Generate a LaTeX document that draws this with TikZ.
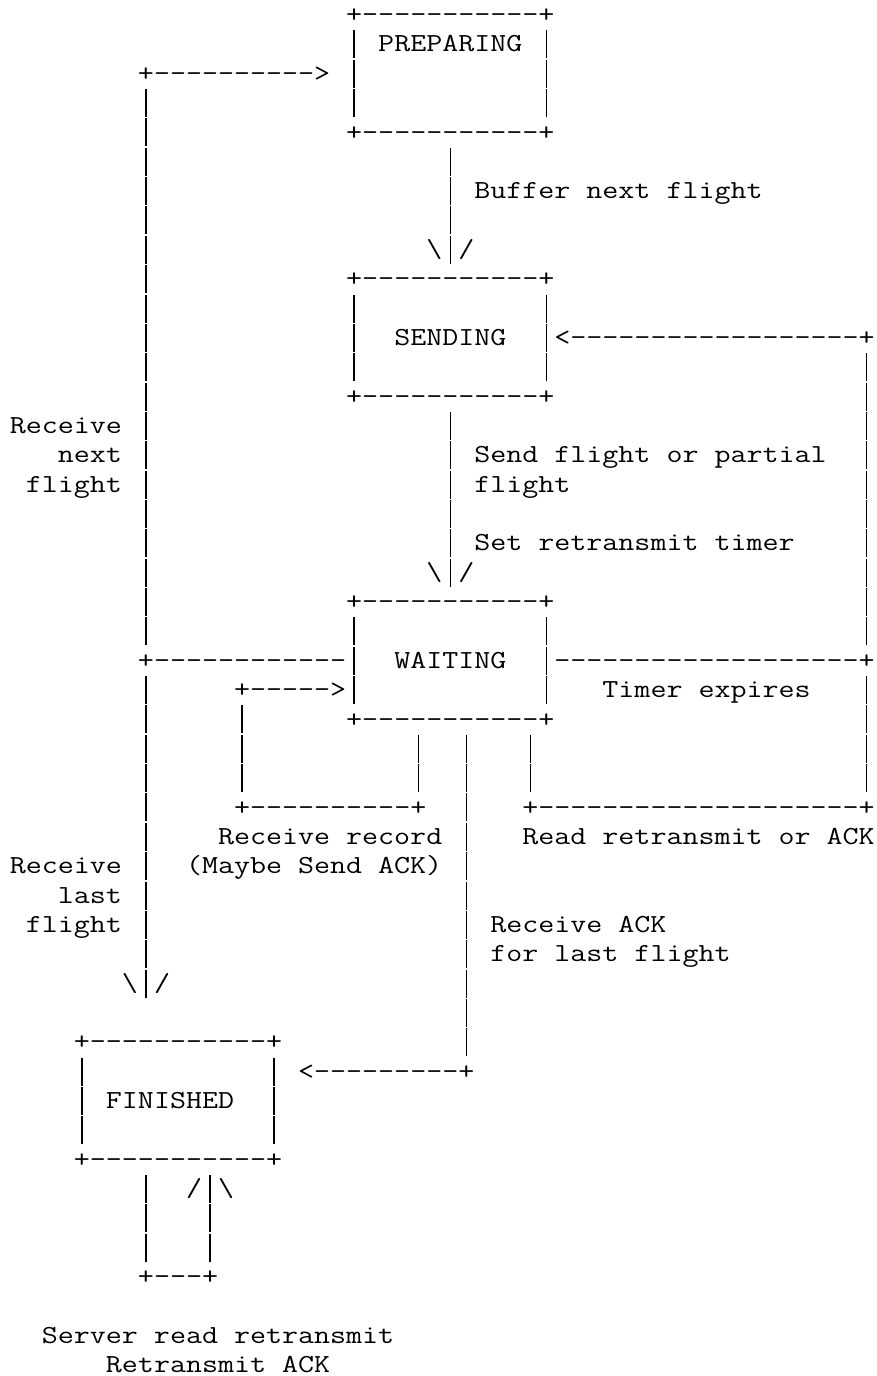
\documentclass[tikz,border=0pt]{standalone}
\usepackage{graphicx}
\usepackage{xparse}

% monospaced row font and helpers for the character grid
\newlength\cw
\newcommand\rowfont{\fontsize{26pt}{29.35pt}\selectfont\ttfamily\frenchspacing}
\AtBeginDocument{\settowidth\cw{\rowfont x}}
\newcommand\ABar{\makebox[\cw]{\rule[-6.4pt]{1.2pt}{28pt}}}% vertical stroke filling the cell
\newcommand\Gap[1]{\kern\dimexpr\cw*#1\relax}% blank columns
\newcommand\Bsl{\textbackslash}
\ExplSyntaxOn
\NewDocumentCommand\DashRun{m}{\prg_replicate:nn{#1}{-\kern0pt}}
\ExplSyntaxOff
\newcommand\RT[1]{\scalebox{\colscale}[1]{\rowfont #1}}

\tikzset{rowtxt/.style={inner sep=0pt, outer sep=0pt, anchor=base west}}

\begin{document}
\begin{tikzpicture}
\pgfmathsetmacro\colscale{16.016pt/\cw}
\fill[white] (0,0) rectangle (877pt,-1376pt);
\useasboundingbox (0,0) rectangle (877pt,-1376pt);
\begin{scope}[x=16.016pt, y=-29.35pt, shift={(-118.26pt,-22.6pt)}]
% PREPARING
\node[rowtxt] (r00) at (29,0) {\RT{+\DashRun{11}+}};
\node[rowtxt] (r01) at (29,1) {\RT{\ABar{} PREPARING \ABar}};
\node[rowtxt] (r02) at (16,2) {\RT{+\DashRun{10}>\Gap{1}\ABar\Gap{11}\ABar}};
\node[rowtxt] (r03) at (16,3) {\RT{\ABar\Gap{12}\ABar\Gap{11}\ABar}};
\node[rowtxt] (r04) at (16,4) {\RT{\ABar\Gap{12}+\DashRun{11}+}};
\node[rowtxt] (r05) at (16,5) {\RT{\ABar\Gap{18}\ABar}};
\node[rowtxt] (r06) at (16,6) {\RT{\ABar\Gap{18}\ABar{} Buffer next flight}};
\node[rowtxt] (r07) at (16,7) {\RT{\ABar\Gap{18}\ABar}};
\node[rowtxt] (r08) at (16,8) {\RT{\ABar\Gap{17}\Bsl\ABar/}};
% SENDING
\node[rowtxt] (r09) at (16,9) {\RT{\ABar\Gap{12}+\DashRun{11}+}};
\node[rowtxt] (r10) at (16,10) {\RT{\ABar\Gap{12}\ABar\Gap{11}\ABar}};
\node[rowtxt] (r11) at (16,11) {\RT{\ABar\Gap{12}\ABar\Gap{2}SENDING\Gap{2}\ABar<\DashRun{18}+}};
\node[rowtxt] (r12) at (16,12) {\RT{\ABar\Gap{12}\ABar\Gap{11}\ABar\Gap{19}\ABar}};
\node[rowtxt] (r13) at (16,13) {\RT{\ABar\Gap{12}+\DashRun{11}+\Gap{19}\ABar}};
\node[rowtxt] (r14) at (8,14) {\RT{Receive \ABar\Gap{18}\ABar\Gap{25}\ABar}};
\node[rowtxt] (r15) at (11,15) {\RT{next \ABar\Gap{18}\ABar{} Send flight or partial\Gap{2}\ABar}};
\node[rowtxt] (r16) at (9,16) {\RT{flight \ABar\Gap{18}\ABar{} flight\Gap{18}\ABar}};
\node[rowtxt] (r17) at (16,17) {\RT{\ABar\Gap{18}\ABar\Gap{25}\ABar}};
\node[rowtxt] (r18) at (16,18) {\RT{\ABar\Gap{18}\ABar{} Set retransmit timer\Gap{4}\ABar}};
\node[rowtxt] (r19) at (16,19) {\RT{\ABar\Gap{17}\Bsl\ABar/\Gap{24}\ABar}};
% WAITING
\node[rowtxt] (r20) at (16,20) {\RT{\ABar\Gap{12}+\DashRun{11}+\Gap{19}\ABar}};
\node[rowtxt] (r21) at (16,21) {\RT{\ABar\Gap{12}\ABar\Gap{11}\ABar\Gap{19}\ABar}};
\node[rowtxt] (r22) at (16,22) {\RT{+\DashRun{12}\ABar\Gap{2}WAITING\Gap{2}\ABar\DashRun{19}+}};
\node[rowtxt] (r23) at (16,23) {\RT{\ABar\Gap{5}+\DashRun{5}>\ABar\Gap{11}\ABar\Gap{3}Timer expires\Gap{3}\ABar}};
\node[rowtxt] (r24) at (16,24) {\RT{\ABar\Gap{5}\ABar\Gap{6}+\DashRun{11}+\Gap{19}\ABar}};
\node[rowtxt] (r25) at (16,25) {\RT{\ABar\Gap{5}\ABar\Gap{10}\ABar\Gap{2}\ABar\Gap{3}\ABar\Gap{20}\ABar}};
\node[rowtxt] (r26) at (16,26) {\RT{\ABar\Gap{5}\ABar\Gap{10}\ABar\Gap{2}\ABar\Gap{3}\ABar\Gap{20}\ABar}};
\node[rowtxt] (r27) at (16,27) {\RT{\ABar\Gap{5}+\DashRun{10}+\Gap{2}\ABar\Gap{3}+\DashRun{20}+}};
\node[rowtxt] (r28) at (16,28) {\RT{\ABar\Gap{4}Receive record \ABar\Gap{3}Read retransmit or ACK}};
\node[rowtxt] (r29) at (8,29) {\RT{Receive \ABar\Gap{2}(Maybe Send ACK) \ABar}};
\node[rowtxt] (r30) at (11,30) {\RT{last \ABar\Gap{19}\ABar}};
\node[rowtxt] (r31) at (9,31) {\RT{flight \ABar\Gap{19}\ABar{} Receive ACK}};
\node[rowtxt] (r32) at (16,32) {\RT{\ABar\Gap{19}\ABar{} for last flight}};
\node[rowtxt] (r33) at (15,33) {\RT{\Bsl\ABar/\Gap{18}\ABar}};
\node[rowtxt] (r34) at (36,34) {\RT{\ABar}};
% FINISHED
\node[rowtxt] (r35) at (12,35) {\RT{+\DashRun{11}+\Gap{11}\ABar}};
\node[rowtxt] (r36) at (12,36) {\RT{\ABar\Gap{11}\ABar{} <\DashRun{9}+}};
\node[rowtxt] (r37) at (12,37) {\RT{\ABar{} FINISHED\Gap{2}\ABar}};
\node[rowtxt] (r38) at (12,38) {\RT{\ABar\Gap{11}\ABar}};
\node[rowtxt] (r39) at (12,39) {\RT{+\DashRun{11}+}};
\node[rowtxt] (r40) at (16,40) {\RT{\ABar\Gap{2}/\ABar\Bsl}};
\node[rowtxt] (r41) at (16,41) {\RT{\ABar\Gap{3}\ABar}};
\node[rowtxt] (r42) at (16,42) {\RT{\ABar\Gap{3}\ABar}};
\node[rowtxt] (r43) at (16,43) {\RT{+\DashRun{3}+}};
\node[rowtxt] (r45) at (10,45) {\RT{Server read retransmit}};
\node[rowtxt] (r46) at (14,46) {\RT{Retransmit ACK}};
\end{scope}
\end{tikzpicture}
\end{document}
